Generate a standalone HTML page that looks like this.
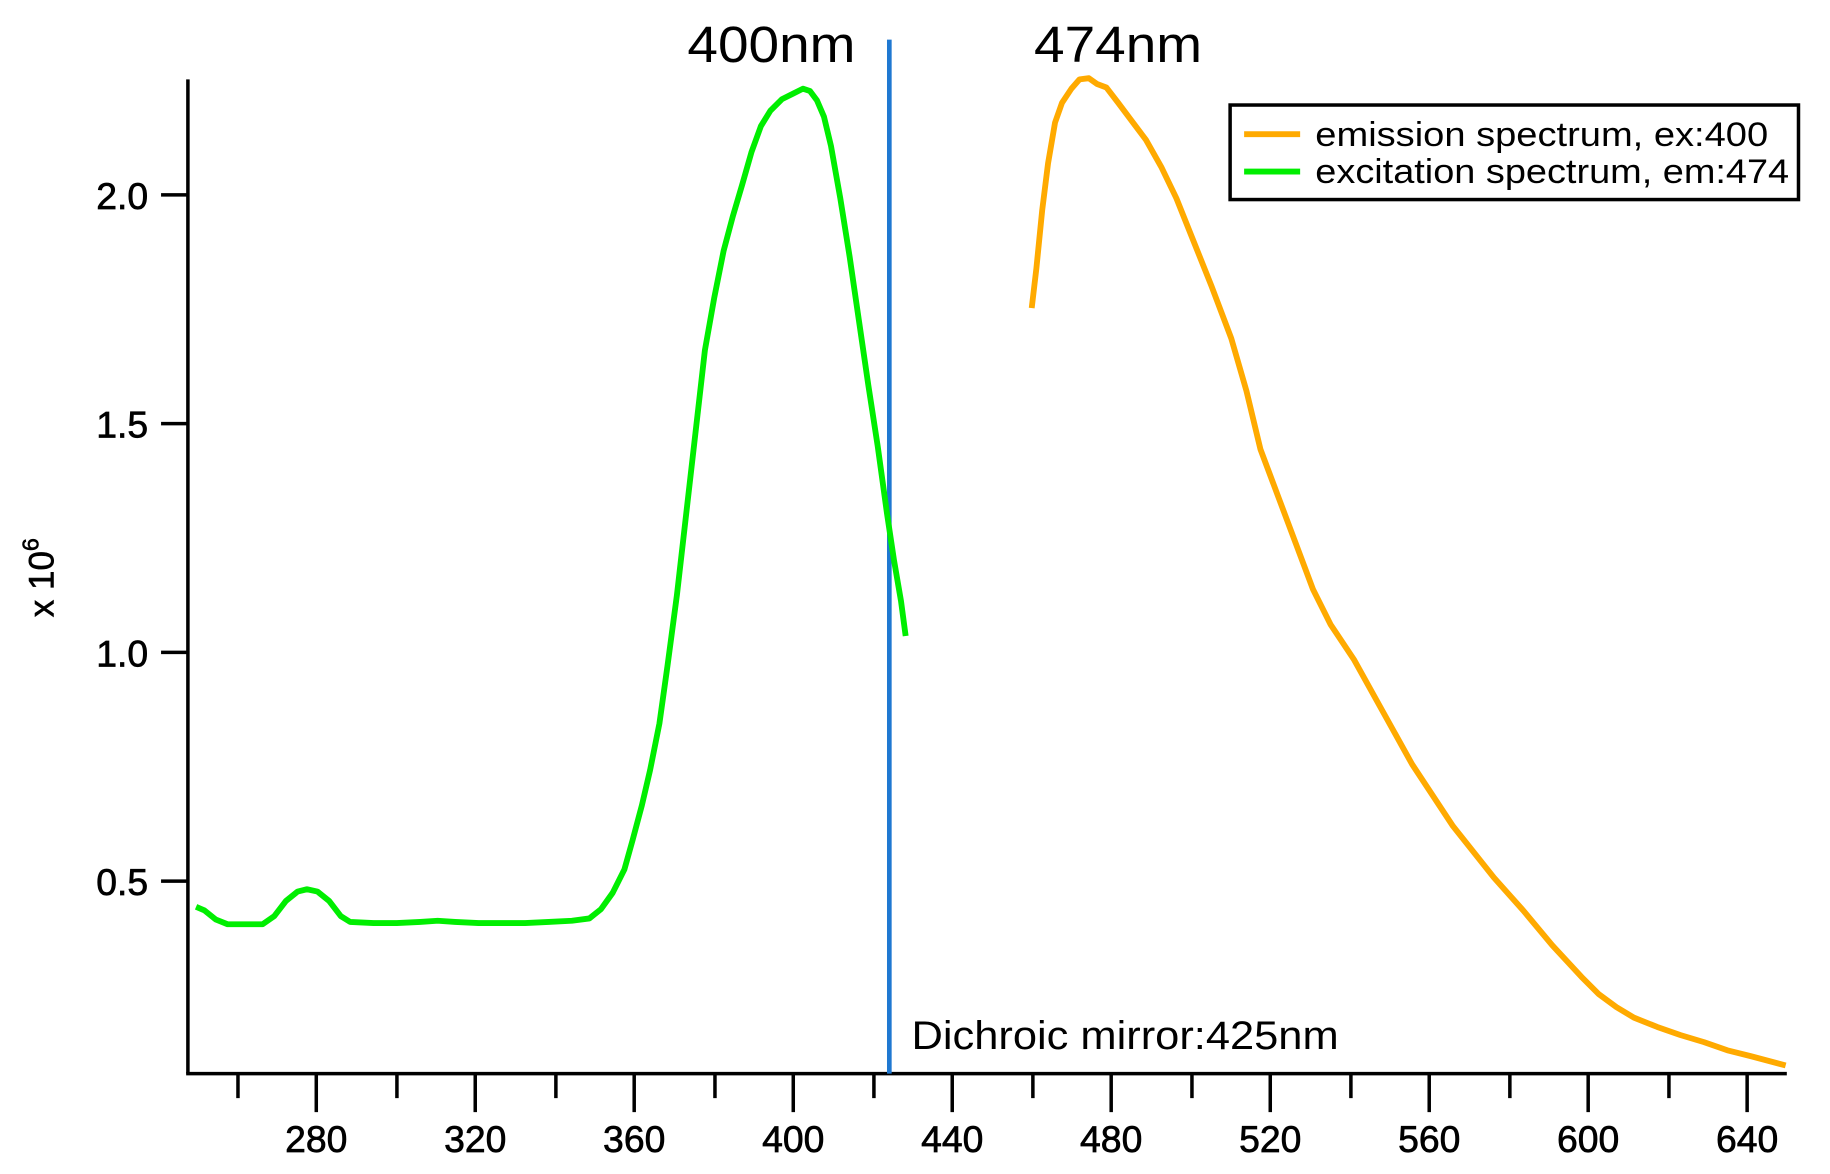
<!DOCTYPE html>
<html><head><style>html,body{margin:0;padding:0;background:#fff}svg{display:block}</style></head>
<body>
<svg width="1830" height="1174" viewBox="0 0 1568 1006" preserveAspectRatio="none" xmlns="http://www.w3.org/2000/svg" font-family="Liberation Sans, sans-serif">
<rect width="1568" height="1006" fill="#fff"/>
<g stroke="#000" stroke-width="3" fill="none">
<line x1="161" y1="68" x2="161" y2="920"/>
<line x1="159.5" y1="920" x2="1531" y2="920"/>
<line x1="138" y1="167" x2="161" y2="167"/>
<line x1="138" y1="363" x2="161" y2="363"/>
<line x1="138" y1="559" x2="161" y2="559"/>
<line x1="138" y1="755" x2="161" y2="755"/>
<path d="M203.9 920v21M340.1 920v21M476.3 920v21M612.6 920v21M748.8 920v21M885 920v21M1021.3 920v21M1157.5 920v21M1293.7 920v21M1430 920v21"/>
<path d="M271 920v33M407.2 920v33M543.4 920v33M679.7 920v33M815.9 920v33M952.1 920v33M1088.4 920v33M1224.6 920v33M1360.8 920v33M1497 920v33"/>
</g>
<g font-size="32" text-anchor="end" fill="#000" stroke="#000" stroke-width="0.6">
<text x="127" y="179">2.0</text><text x="127" y="375">1.5</text><text x="127" y="571">1.0</text><text x="127" y="767">0.5</text>
</g>
<g font-size="32" text-anchor="middle" fill="#000" stroke="#000" stroke-width="0.6">
<text x="271" y="987">280</text><text x="407.2" y="987">320</text><text x="543.4" y="987">360</text><text x="679.7" y="987">400</text><text x="815.9" y="987">440</text><text x="952.1" y="987">480</text><text x="1088.4" y="987">520</text><text x="1224.6" y="987">560</text><text x="1360.8" y="987">600</text><text x="1497" y="987">640</text>
</g>
<text transform="translate(46,495) rotate(-90)" font-size="30" text-anchor="middle" stroke="#000" stroke-width="0.5">x 10<tspan dy="-13" font-size="20">6</tspan></text>
<line x1="762" y1="34" x2="762" y2="920" stroke="#1f78d1" stroke-width="4"/>
<text x="589" y="53" font-size="44" textLength="144" lengthAdjust="spacingAndGlyphs">400nm</text>
<text x="886" y="53" font-size="44" textLength="144" lengthAdjust="spacingAndGlyphs">474nm</text>
<text x="781" y="899" font-size="34" textLength="366" lengthAdjust="spacingAndGlyphs">Dichroic mirror:425nm</text>
<polyline fill="none" stroke="#00ee00" stroke-width="5" stroke-linejoin="round" points="168,777 175,780 185,788 195,792 210,792 225,792 235,785 245,772 255,764 263,762 272,764 282,772 292,785 300,790 320,791 340,791 360,790 375,789 390,790 410,791 430,791 450,791 470,790 490,789 505,787 515,779 525,765 535,745 542,720 550,690 557,660 565,620 572,570 580,510 588,440 596,370 604,300 612,255 620,215 628,185 636,158 644,130 652,108 660,95 670,85 680,80 688,76 694,78 700,86 706,100 712,125 720,170 728,220 736,275 744,330 752,382 760,440 766,480 772,515 776,545"/>
<polyline fill="none" stroke="#ffaa00" stroke-width="5" stroke-linejoin="round" points="884,264 888,230 893,180 898,140 904,105 910,88 918,76 925,68 933,67 940,72 948,75 958,88 970,104 982,120 995,143 1008,170 1022,205 1038,245 1055,290 1068,335 1080,385 1095,425 1110,465 1125,505 1140,535 1160,565 1185,610 1210,655 1245,708 1280,752 1305,780 1330,810 1355,837 1370,852 1385,863 1400,872 1420,880 1440,887 1460,893 1480,900 1500,905 1530,913"/>
<rect x="1054" y="90" width="487" height="81" fill="#fff" stroke="#000" stroke-width="3"/>
<line x1="1066" y1="115" x2="1114" y2="115" stroke="#ffaa00" stroke-width="5"/>
<line x1="1066" y1="147" x2="1114" y2="147" stroke="#00ee00" stroke-width="5"/>
<text x="1127" y="125" font-size="29" textLength="388" lengthAdjust="spacingAndGlyphs">emission spectrum, ex:400</text>
<text x="1127" y="157" font-size="29" textLength="406" lengthAdjust="spacingAndGlyphs">excitation spectrum, em:474</text>
</svg>
</body></html>
